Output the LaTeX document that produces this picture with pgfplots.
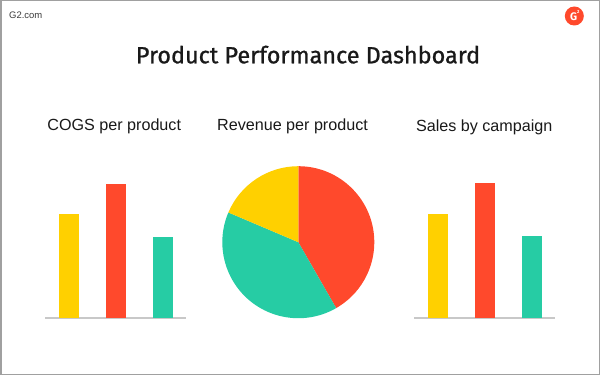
\documentclass[border=0pt]{standalone}
\usepackage{pgfplots}
\pgfplotsset{compat=1.18}
\usepackage{pgfplotstable}
\usepackage{fontspec}
\setmainfont{Liberation Sans}
\newfontfamily\titlefont[FakeBold=0.9]{Fira Sans}
\newfontfamily\logofont{Fira Sans}
\definecolor{gyellow}{RGB}{255,208,0}
\definecolor{gred}{RGB}{255,73,44}
\definecolor{gteal}{RGB}{38,204,164}
\definecolor{gaxis}{RGB}{200,200,200}
\definecolor{gborder}{RGB}{160,160,160}
\definecolor{gtext}{RGB}{25,25,25}

\pgfplotstableread{
idx value
0 104
1 134
2 81
}\cogstable
\pgfplotstableread{
idx value
0 104
1 134.5
2 81.5
}\salestable
\pgfplotstableread{
slice share
Red 41.7
Teal 39.7
Yellow 18.6
}\revtable

\pgfplotsset{
  barchart/.style={
    scale only axis, width=141bp, height=150bp,
    anchor=south west,
    xmin=-0.5, xmax=2.5, ymin=0, ymax=150,
    axis x line=bottom, axis y line=none,
    x axis line style={draw=gaxis, line width=1.6bp, -},
    xtick=\empty, ytick=\empty,
    ybar, bar width=20bp, bar shift=0pt, clip=false,
  }
}

\begin{document}
\begin{tikzpicture}[x=1bp,y=1bp]
\fill[white] (0,0) rectangle (600,375);
\draw[gborder, line width=1.5bp] (0.75,0.75) rectangle (599.25,374.25);

% header
\node[anchor=base west, font=\fontsize{9.5}{11}\selectfont, text=gtext!85, inner sep=0] at (9,356.7) {G2.com};
\fill[gred] (574.3,359) circle (9.5);
\node[font=\logofont\bfseries\fontsize{11}{12}\selectfont, text=white, inner sep=0] at (573.6,358.3) {G};
\node[font=\logofont\bfseries\fontsize{4.5}{5}\selectfont, text=white, inner sep=0] at (578.2,363.2) {2};

\node[anchor=base, font=\titlefont\fontsize{23.5}{26}\selectfont, text=gtext, inner sep=0] at (308,311.7) {Product Performance Dashboard};

\node[anchor=base, font=\fontsize{16.2}{19}\selectfont, text=gtext, inner sep=0] at (114.2,245) {COGS per product};
\node[anchor=base, font=\fontsize{16.2}{19}\selectfont, text=gtext, inner sep=0] at (292.5,245) {Revenue per product};
\node[anchor=base, font=\fontsize{16.2}{19}\selectfont, text=gtext, inner sep=0] at (484.2,244) {Sales by campaign};

% COGS bars
\begin{axis}[barchart, at={(45bp,57bp)}]
\addplot[draw=none, fill=gyellow] coordinates {(0,104)};
\addplot[draw=none, fill=gred] coordinates {(1,134)};
\addplot[draw=none, fill=gteal] coordinates {(2,81)};
\end{axis}

% Sales bars
\begin{axis}[barchart, at={(414bp,57.3bp)}]
\addplot[draw=none, fill=gyellow] coordinates {(0,104)};
\addplot[draw=none, fill=gred] coordinates {(1,134.5)};
\addplot[draw=none, fill=gteal] coordinates {(2,81.5)};
\end{axis}

% Revenue pie
\pgfplotstablegetelem{0}{share}\of\revtable \let\sA\pgfplotsretval
\pgfplotstablegetelem{1}{share}\of\revtable \let\sB\pgfplotsretval
\pgfplotstablegetelem{2}{share}\of\revtable \let\sC\pgfplotsretval
\pgfmathsetmacro{\aA}{90}
\pgfmathsetmacro{\aB}{90-3.6*\sA}
\pgfmathsetmacro{\aC}{\aB-3.6*\sB}
\pgfmathsetmacro{\aD}{\aC-3.6*\sC}
\begin{axis}[scale only axis, width=152bp, height=152bp, anchor=center, at={(298.3bp,132.8bp)},
  xmin=-1, xmax=1, ymin=-1, ymax=1, hide axis, clip=false]
\fill[gred] (axis cs:0,0) -- (axis cs:{cos(\aA)},{sin(\aA)}) arc[start angle=\aA, end angle=\aB, radius=76bp] -- cycle;
\fill[gteal] (axis cs:0,0) -- (axis cs:{cos(\aB)},{sin(\aB)}) arc[start angle=\aB, end angle=\aC, radius=76bp] -- cycle;
\fill[gyellow] (axis cs:0,0) -- (axis cs:{cos(\aC)},{sin(\aC)}) arc[start angle=\aC, end angle=\aD, radius=76bp] -- cycle;
\end{axis}
\end{tikzpicture}
\end{document}
